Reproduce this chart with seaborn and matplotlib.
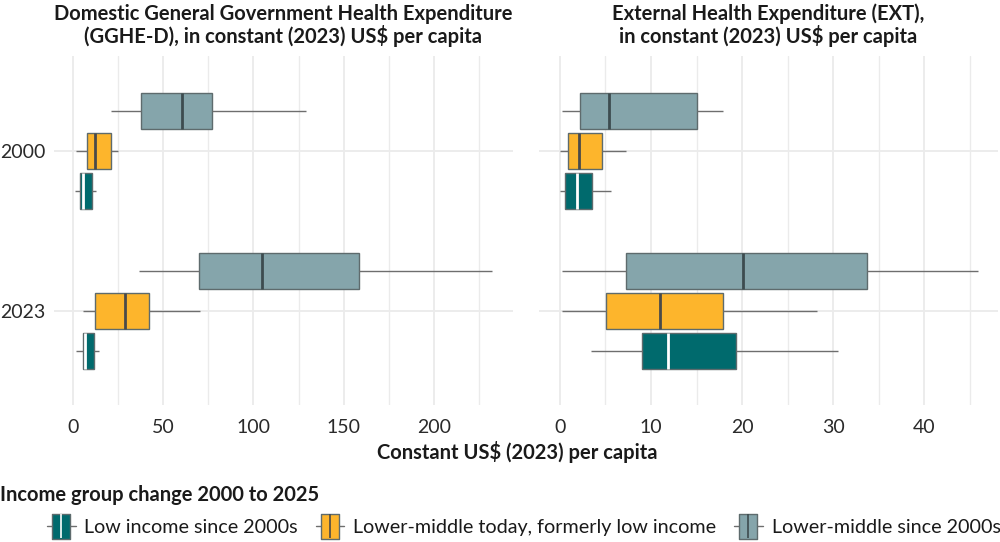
"""Box plots of health expenditure per capita by income group change."""

import numpy as np
import pandas as pd
import matplotlib
matplotlib.use("Agg")
import matplotlib.pyplot as plt
from matplotlib.lines import Line2D
from matplotlib.path import Path
from matplotlib.ticker import MultipleLocator
import seaborn as sns

# five-number summaries: min, q1, median, q3, max
years = ["2000", "2023"]
groups = [
    "Low income since 2000s",
    "Lower-middle today, formerly low income",
    "Lower-middle since 2000s",
]
colors = ["#006a6d", "#fdb52c", "#85a5ab"]
median_colors = ["#ffffff", "#4a4a4a", "#3d4c4f"]

gghe_2000 = [
    [0.8, 3.7, 5.4, 10.4, 12.4],
    [1.7, 7.4, 11.9, 20.8, 25.0],
    [21.1, 37.8, 60.6, 77.2, 129.3],
]
gghe_2023 = [
    [1.7, 5.2, 6.7, 11.5, 14.3],
    [5.6, 12.1, 28.9, 42.0, 70.4],
    [36.3, 70.0, 104.8, 158.7, 232.4],
]
ext_2000 = [
    [0.05, 0.58, 1.87, 3.52, 5.64],
    [0.04, 0.84, 2.05, 4.58, 7.3],
    [0.19, 2.2, 5.35, 15.0, 17.9],
]
ext_2023 = [
    [3.4, 9.0, 11.9, 19.3, 30.5],
    [0.2, 5.1, 11.0, 17.9, 28.2],
    [0.2, 7.3, 20.1, 33.7, 45.9],
]

titles = [
    "Domestic General Government Health Expenditure\n(GGHE-D), in constant (2023) US$ per capita",
    "External Health Expenditure (EXT),\nin constant (2023) US$ per capita",
]
xlabel = "Constant US$ (2023) per capita"
legend_title = "Income group change 2000 to 2025"


def to_frame(by_year):
    rows = []
    for year, per_group in zip(years, by_year):
        for group, vals in zip(groups, per_group):
            for v in vals:
                rows.append({"year": year, "group": group, "value": v})
    return pd.DataFrame(rows)


sns.set_style("white")
plt.rcParams["font.family"] = ["Lato", "DejaVu Sans"]
plt.rcParams["text.color"] = "#1a1a1a"

fig = plt.figure(figsize=(10, 5.42), dpi=100)
ax1 = fig.add_axes([0.054, 0.253, 0.459, 0.644])
ax2 = fig.add_axes([0.539, 0.253, 0.459, 0.644], sharey=ax1)

# plot top-to-bottom: lower-middle, formerly low, low
plot_order = groups[::-1]
palette = dict(zip(groups, colors))
med_col = dict(zip(groups, median_colors))

panels = [
    (ax1, to_frame([gghe_2000, gghe_2023]), (-10.7, 244), 50, 25),
    (ax2, to_frame([ext_2000, ext_2023]), (-2.3, 48.1), 10, 5),
]

for (ax, df, xlim, major, minor), title in zip(panels, titles):
    sns.boxplot(
        data=df, x="value", y="year", hue="group", hue_order=plot_order,
        order=years, palette=palette, orient="h", whis=(0, 100),
        width=0.75, gap=0.1, saturation=1, linewidth=1, linecolor="#5e6b6d",
        showcaps=False, legend=False, ax=ax,
        whiskerprops={"color": "#6e6e6e", "linewidth": 1},
        medianprops={"linewidth": 2},
    )
    for cont, grp in zip(ax.containers, plot_order):
        for m in cont.medians:
            m.set_color(med_col[grp])
    ax.set_xlim(*xlim)
    ax.set_ylim(1.59, -0.594)
    ax.xaxis.set_major_locator(MultipleLocator(major))
    ax.xaxis.set_minor_locator(MultipleLocator(minor))
    ax.grid(which="major", axis="both", color="#ebebeb", lw=1.3, zorder=0)
    ax.grid(which="minor", axis="x", color="#ebebeb", lw=1.0, zorder=0)
    ax.set_axisbelow(True)
    for s in ax.spines.values():
        s.set_visible(False)
    ax.tick_params(axis="both", which="both", length=0, labelsize=14,
                   labelcolor="#2a2a2a")
    ax.tick_params(axis="x", pad=10)
    ax.tick_params(axis="y", pad=6)
    ax.set_xlabel("")
    ax.set_ylabel("")
    ax.set_title(title, fontsize=14.5, fontweight="bold", pad=9,
                 linespacing=1.1)

ax2.tick_params(axis="y", labelleft=False)

fig.text(0.517, 0.166, xlabel, ha="center", va="center", fontsize=14.5,
         fontweight="bold")
fig.text(0.0, 0.087, legend_title, ha="left", va="center", fontsize=14.5,
         fontweight="bold")

# legend glyphs: whisker line, tall box, median tick
box_path = Path([(-0.36, -0.5), (0.36, -0.5), (0.36, 0.5), (-0.36, 0.5), (-0.36, -0.5)],
                [Path.MOVETO, Path.LINETO, Path.LINETO, Path.LINETO, Path.CLOSEPOLY])
handles = []
for grp in groups:
    whisk = Line2D([], [], color="#6e6e6e", lw=1)
    box = Line2D([], [], marker=box_path, markersize=18, linestyle="none",
                 markerfacecolor=palette[grp], markeredgecolor="#5e6b6d",
                 markeredgewidth=1)
    med = Line2D([], [], marker="|", markersize=17, linestyle="none",
                 markeredgecolor=med_col[grp], markeredgewidth=1.2)
    handles.append((whisk, box, med))

fig.legend(handles, groups, loc="center left", bbox_to_anchor=(0.047, 0.027),
           ncol=3, frameon=False, fontsize=14.2, handlelength=1.45,
           handletextpad=0.45, columnspacing=0.9, borderaxespad=0,
           borderpad=0)

fig.savefig("out.png", dpi=100)
